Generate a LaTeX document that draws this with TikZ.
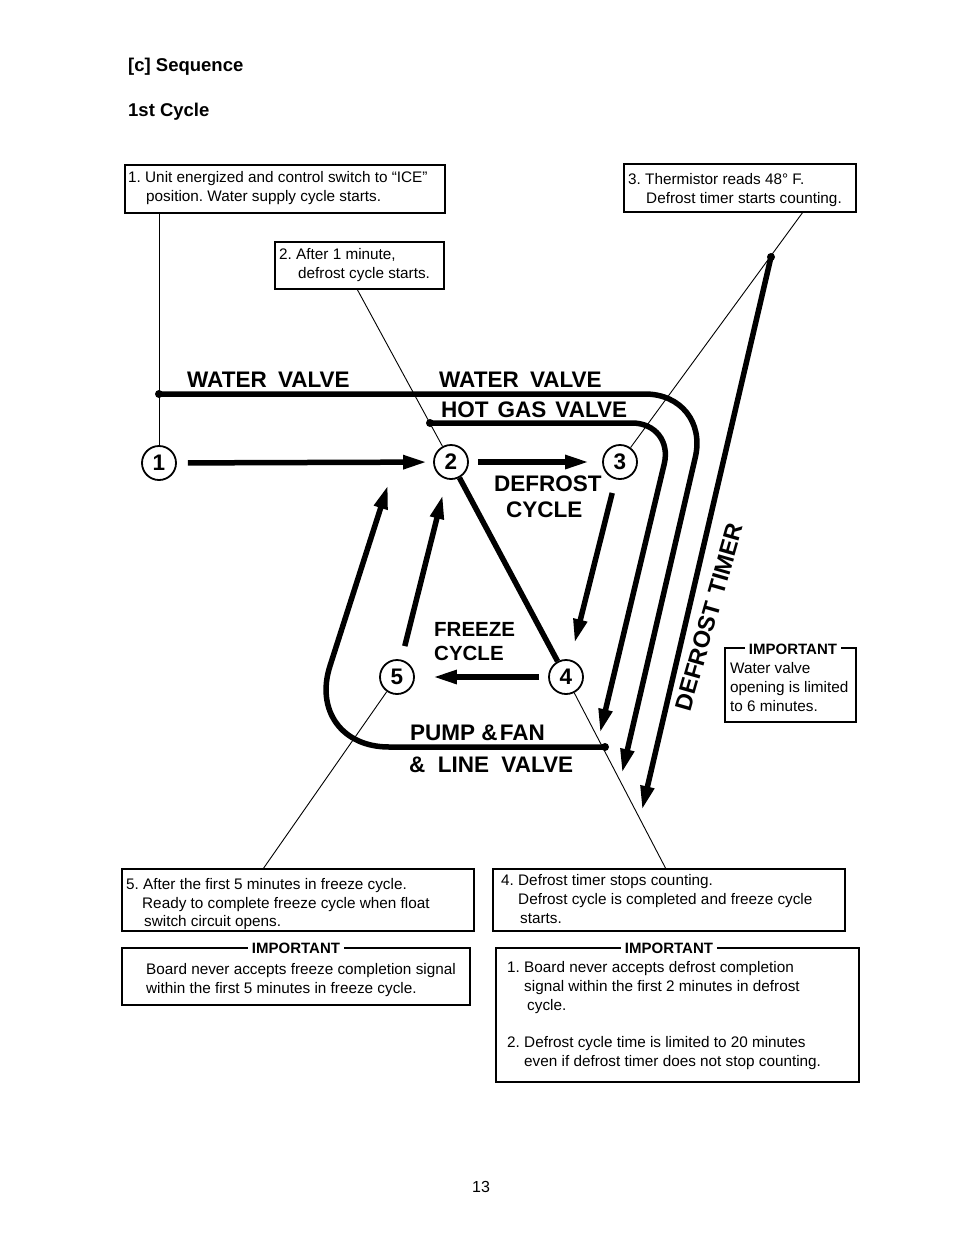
\documentclass[tikz,border=0pt]{standalone}
\usepackage{fontspec}
\setmainfont{Liberation Sans}
\usetikzlibrary{arrows.meta}
\frenchspacing
\begin{document}
\begin{tikzpicture}[x=1pt,y=-1pt,
  txt/.style={anchor=base west, inner sep=0pt, font=\fontsize{15.3}{18}\selectfont},
  head/.style={anchor=base west, inner sep=0pt, font=\fontsize{18.5}{21}\selectfont\bfseries},
  big/.style={anchor=base west, inner sep=0pt, font=\fontsize{22.5}{26}\selectfont\bfseries},
  mid/.style={anchor=base west, inner sep=0pt, font=\fontsize{20.5}{24}\selectfont\bfseries},
  thinbox/.style={draw, line width=1.2pt, inner sep=0pt},
  impbox/.style={draw, line width=2.4pt, inner sep=0pt},
  implabel/.style={fill=white, inner sep=4pt, font=\fontsize{15}{18}\selectfont\bfseries},
  num/.style={circle, draw, line width=1.8pt, minimum size=34pt, inner sep=0pt, font=\fontsize{22.5}{24}\selectfont\bfseries},
  flow/.style={line width=5.5pt, -{Triangle[length=24pt,width=13pt]}},
  bar/.style={line width=5.5pt},
  callout/.style={line width=0.9pt},
  dot/.style={circle, fill, inner sep=0pt, minimum size=8pt},
]
\useasboundingbox (0,0) rectangle (954,1235);

% headings
\node[head] (h1) at (128,71) {[c] Sequence};
\node[head] (h2) at (128,116) {1st Cycle};

% callout boxes
\node[thinbox, minimum width=320pt, minimum height=48pt] (b1) at (285,189) {};
\node[txt] (b1a) at (128,182) {1. Unit energized and control switch to “ICE”};
\node[txt] (b1b) at (146,201) {position. Water supply cycle starts.};

\node[thinbox, minimum width=169pt, minimum height=47pt] (b2) at (359.5,265.5) {};
\node[txt] (b2a) at (279,259) {2. After 1 minute,};
\node[txt] (b2b) at (298,278) {defrost cycle starts.};

\node[thinbox, minimum width=232pt, minimum height=48pt] (b3) at (740,188) {};
\node[txt] (b3a) at (628,184) {3. Thermistor reads 48° F.};
\node[txt] (b3b) at (646,203) {Defrost timer starts counting.};

\node[thinbox, minimum width=352pt, minimum height=62pt] (b5) at (298,900) {};
\node[txt] (b5a) at (126,889) {5. After the first 5 minutes in freeze cycle.};
\node[txt] (b5b) at (142,908) {Ready to complete freeze cycle when float};
\node[txt] (b5c) at (144,926) {switch circuit opens.};

\node[impbox, minimum width=348pt, minimum height=57pt] (i5) at (296,976.5) {};
\node[implabel] (i5l) at (296,948) {IMPORTANT};
\node[txt] (i5a) at (146,974) {Board never accepts freeze completion signal};
\node[txt] (i5b) at (146,993) {within the first 5 minutes in freeze cycle.};

\node[thinbox, minimum width=352pt, minimum height=62pt] (b4) at (669,900) {};
\node[txt] (b4a) at (501,885) {4. Defrost timer stops counting.};
\node[txt] (b4b) at (518,904) {Defrost cycle is completed and freeze cycle};
\node[txt] (b4c) at (520,923) {starts.};

\node[impbox, minimum width=363pt, minimum height=134pt] (i4) at (677.5,1015) {};
\node[implabel] (i4l) at (669,948) {IMPORTANT};
\node[txt] (i4a) at (507,972) {1. Board never accepts defrost completion};
\node[txt] (i4b) at (524,991) {signal within the first 2 minutes in defrost};
\node[txt] (i4c) at (527,1010) {cycle.};
\node[txt] (i4d) at (507,1047) {2. Defrost cycle time is limited to 20 minutes};
\node[txt] (i4e) at (524,1066) {even if defrost timer does not stop counting.};

\node[impbox, minimum width=131pt, minimum height=74pt] (iw) at (790.5,685) {};
\node[implabel] (iwl) at (793,649) {IMPORTANT};
\node[txt] (iwa) at (730,673) {Water valve};
\node[txt] (iwb) at (730,692) {opening is limited};
\node[txt] (iwc) at (730,711) {to 6 minutes.};

% numbered circles
\node[num] (c1) at (159,463) {1};
\node[num] (c2) at (451,462) {2};
\node[num] (c3) at (620,462) {3};
\node[num] (c4) at (566,677) {4};
\node[num] (c5) at (397,677) {5};

% dots
\node[dot] (wvdot) at (159,394) {};
\node[dot] (hgdot) at (430,423) {};
\node[dot] (pdot) at (605,747) {};
\node[dot] (dtdot) at (771,257) {};

% callout anchor coordinates
\coordinate (b2t) at (357,289);
\coordinate (b3t) at (803,212);
\coordinate (b4t) at (666,869);
\coordinate (b5t) at (263,869);
\coordinate (wvend) at (622,773);
\coordinate (hgend) at (600,733);
\coordinate (pend) at (388,485);
\coordinate (dtend) at (642,810);

% callout lines
\draw[callout] (b1.south -| c1) -- (c1);
\draw[callout] (b2t) -- (c2);
\draw[callout] (b3t) -- (c3);
\draw[callout] (c4) -- (b4t);
\draw[callout] (c5) -- (b5t);

% cycle arrows
\draw[flow, shorten <=11pt, shorten >=6pt] (c1) -- (c2);
\draw[flow, shorten <=9pt, shorten >=13pt] (c2) -- (c3);
\draw[flow, shorten <=14pt, shorten >=17pt] (c3) -- (c4);
\draw[flow, shorten <=9pt, shorten >=18pt] (c4) -- (c5);
\draw[flow, shorten <=14pt, shorten >=16pt] (c5) -- (c2);
\draw[bar] (c2) -- (c4);

% timing loops
\draw[flow, rounded corners=65pt] (wvdot.center) -- (710,394) -- (wvend);
\draw[flow, rounded corners=42pt] (hgdot.center) -- (674,423) -- (hgend);
\draw[flow, rounded corners=85pt] (pdot.center) -- (304,747) -- (pend);
\draw[flow] (dtdot.center) -- (dtend);

% big labels
\node[big] (lwv1) at (187,387.5) {WATER\hspace{0.5em}VALVE};
\node[big] (lwv2) at (439,387.5) {WATER\hspace{0.5em}VALVE};
\node[big] (lhg) at (441,417) {HOT\hspace{0.4em}GAS\hspace{0.4em}VALVE};
\node[big] (ldc1) at (494,491) {DEFROST};
\node[big] (ldc2) at (506,517) {CYCLE};
\node[mid] (lfc1) at (434,636) {FREEZE};
\node[mid] (lfc2) at (434,660) {CYCLE};
\node[big] (lpf1) at (410,740) {PUMP \&\hspace{0.1em}FAN};
\node[big] (lpf2) at (409,772) {\&\hspace{0.55em}LINE\hspace{0.55em}VALVE};
\node[inner sep=0pt, font=\fontsize{23.5}{26}\selectfont\bfseries, rotate=74] (ldt) at (709,617) {DEFROST\hspace{0.35em}TIMER};

% page number
\node[anchor=base, inner sep=0pt, font=\fontsize{16}{19}\selectfont] (pg) at (481,1192) {13};
\end{tikzpicture}
\end{document}
